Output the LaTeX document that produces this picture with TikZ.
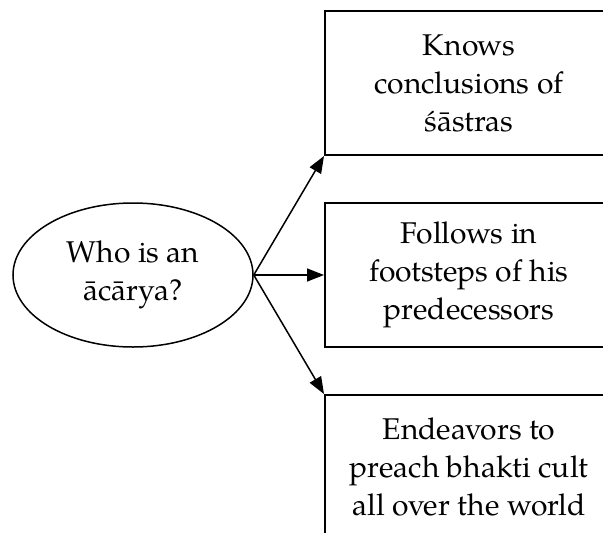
\documentclass[tikz,border=0pt]{standalone}
\usepackage{fontspec}
\setmainfont{TeX Gyre Pagella}
\usetikzlibrary{arrows.meta,shapes.geometric}
\tikzset{
  txt/.style={font=\fontsize{30}{38}\selectfont, align=center},
  answer/.style={txt, draw, line width=2pt, rectangle, minimum width=288pt, minimum height=144pt, inner sep=0pt},
  question/.style={txt, draw, line width=1.5pt, ellipse, minimum width=240pt, minimum height=144pt, inner sep=0pt},
  link/.style={line width=1.5pt, -{Triangle[length=17pt,width=13pt]}}
}
\begin{document}
\begin{tikzpicture}[x=1pt,y=-1pt]
  \useasboundingbox (0,0) rectangle (603,533);
  \clip (0,0) rectangle (603,533);
  \fill[white] (0,0) rectangle (603,533);
  \node[question] (q) at (133,275) {Who is an\\ācārya?};
  \node[answer] (b1) at (469,83) {Knows\\conclusions of\\śāstras};
  \node[answer] (b2) at (469,275) {Follows in\\footsteps of his\\predecessors};
  \node[answer] (b3) at (469,467) {Endeavors to\\preach bhakti cult\\all over the world};
  \draw[link] (q.east) -- (b1.south west);
  \draw[link] (q.east) -- (b2.west);
  \draw[link] (q.east) -- (b3.north west);
\end{tikzpicture}
\end{document}
